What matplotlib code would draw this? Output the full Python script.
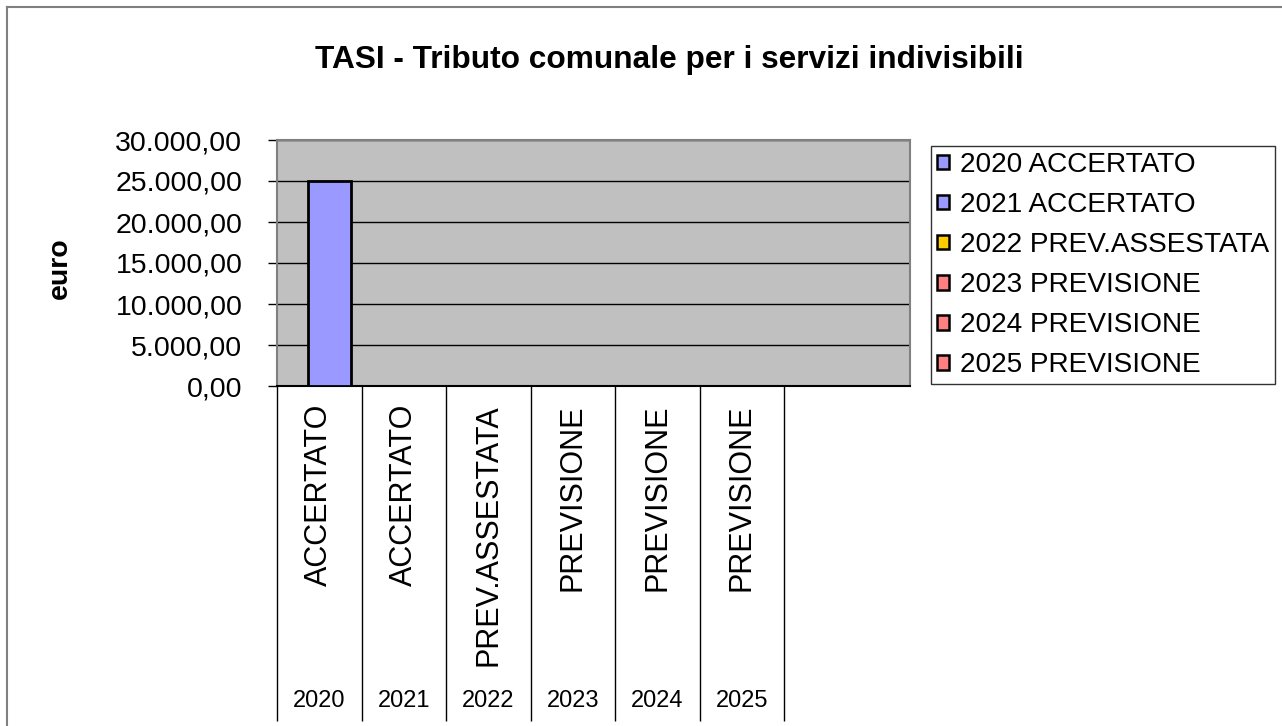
import matplotlib.pyplot as plt
from matplotlib.patches import Patch
from matplotlib.lines import Line2D
from matplotlib.ticker import FuncFormatter, MultipleLocator

plt.rcParams['font.family'] = ['Liberation Sans', 'DejaVu Sans']

# Dati
anni = ['2020', '2021', '2022', '2023', '2024', '2025']
tipi = ['ACCERTATO', 'ACCERTATO', 'PREV.ASSESTATA', 'PREVISIONE', 'PREVISIONE', 'PREVISIONE']
serie = ['2020 ACCERTATO', '2021 ACCERTATO', '2022 PREV.ASSESTATA',
         '2023 PREVISIONE', '2024 PREVISIONE', '2025 PREVISIONE']
valori = [25000, 0, 0, 0, 0, 0]
colori = ['#9999FF', '#9999FF', '#FFCC00', '#FF8080', '#FF8080', '#FF8080']


def formato_it(v, pos):
    s = '{:,.2f}'.format(v)
    return s.replace(',', 'X').replace('.', ',').replace('X', '.')


W, H = 1282, 726
fig = plt.figure(figsize=(W / 100, H / 100), dpi=100)
ax = fig.add_axes([277 / W, 1 - 386 / H, (910 - 277) / W, (386 - 140) / H])
ax.set_facecolor('#C0C0C0')

# Barre (una per categoria, spostate dentro la categoria come nell'originale)
offset = 0.62
larghezza = 0.51
for i, (v, c) in enumerate(zip(valori, colori)):
    if v > 0:
        ax.bar(i + offset, v, width=larghezza, color=c, edgecolor='black',
               linewidth=2, zorder=3)

ax.set_xlim(0, 633 / 84.5)
ax.set_ylim(0, 30000)
ax.yaxis.set_major_locator(MultipleLocator(5000))
ax.yaxis.set_major_formatter(FuncFormatter(formato_it))
ax.grid(axis='y', color='black', linewidth=1, zorder=1)
ax.set_axisbelow(True)

# Asse x a due livelli
centri = [i + 0.5 for i in range(len(anni))]
ax.set_xticks(centri)
ax.set_xticklabels(tipi, rotation=90, fontsize=22)
ax.set_xticks(list(range(len(anni) + 1)), minor=True)
ax.tick_params(axis='x', which='major', length=0, pad=13)
ax.tick_params(axis='x', which='minor', length=241, width=1, color='black', direction='out')
for x, a in zip(centri, anni):
    ax.text(x, -1.28, a, transform=ax.get_xaxis_transform(), ha='center', va='center',
            fontsize=17)

ax.tick_params(axis='y', length=6.5, width=1, pad=18.5, labelsize=20.5)

for s in ['top', 'right', 'left']:
    ax.spines[s].set_color('#808080')
    ax.spines[s].set_linewidth(1.5)
ax.spines['bottom'].set_color('black')
ax.spines['bottom'].set_linewidth(1.5)

fig.text(669 / W, 1 - 60 / H, 'TASI - Tributo comunale per i servizi indivisibili',
         ha='center', va='center', fontsize=22.8, fontweight='bold')
fig.text(60 / W, 1 - 268 / H, 'euro', rotation=90, ha='center', va='center',
         fontsize=20.5, fontweight='bold')

# Legenda
maniglie = [Patch(facecolor=c, edgecolor='black', linewidth=1.8) for c in colori]
leg = fig.legend(maniglie, serie, loc='upper left', bbox_to_anchor=(931 / W, 1 - 146 / H),
                 fontsize=20.2, frameon=True, fancybox=False, edgecolor='black',
                 handlelength=0.42, handleheight=0.42, handletextpad=0.38,
                 labelspacing=0.5, borderpad=0.22, borderaxespad=0)
leg.get_frame().set_linewidth(1)

# Cornice esterna del grafico
fig.add_artist(Line2D([7 / W, 7 / W], [0, 1 - 7 / H], color='#808080', linewidth=1.5))
fig.add_artist(Line2D([7 / W, 1], [1 - 7 / H, 1 - 7 / H], color='#808080', linewidth=1.5))

fig.savefig('out.png', dpi=100)
